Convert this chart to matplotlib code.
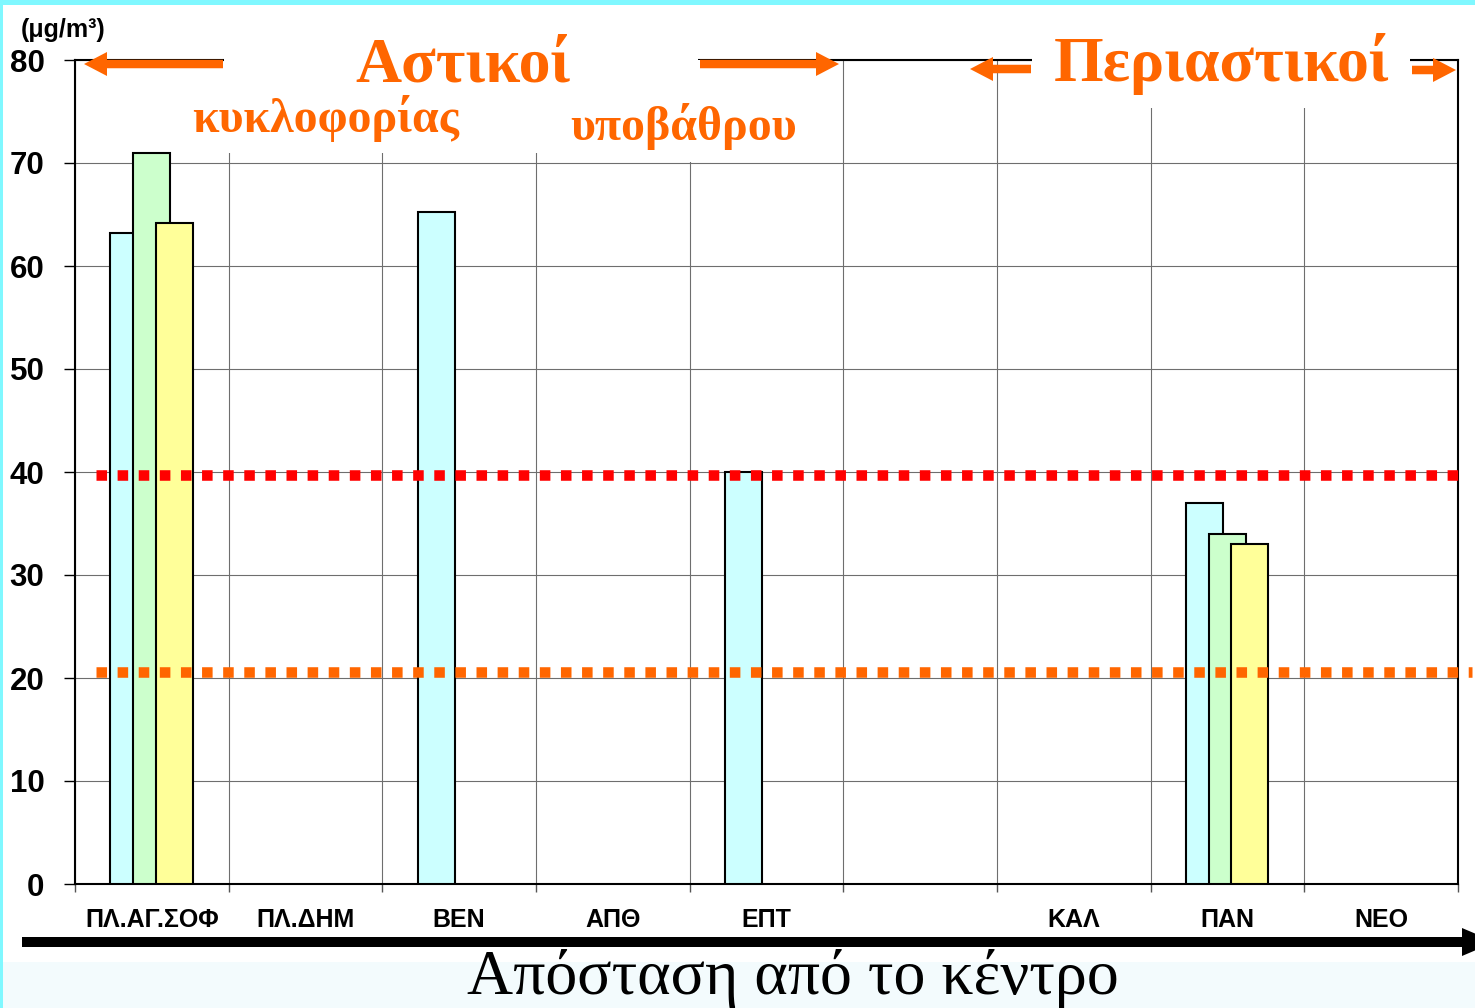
"""
NO2 annual means per station, grouped by distance from the city centre
"""

import numpy as np
import matplotlib
matplotlib.use('Agg')
import matplotlib.pyplot as plt
from matplotlib.patches import Rectangle, FancyArrow

# Data
stations = ['ΠΛ.ΑΓ.ΣΟΦ', 'ΠΛ.ΔΗΜ', 'ΒΕΝ', 'ΑΠΘ', 'ΕΠΤ', '', 'ΚΑΛ', 'ΠΑΝ', 'ΝΕΟ']
series_cyan = [63.2, np.nan, 65.2, np.nan, 40.0, np.nan, np.nan, 37.0, np.nan]
series_green = [71.0, np.nan, np.nan, np.nan, np.nan, np.nan, np.nan, 34.0, np.nan]
series_yellow = [64.2, np.nan, np.nan, np.nan, np.nan, np.nan, np.nan, 33.0, np.nan]
limit_red = 39.7
limit_orange = 20.55
y_ticks = [0, 10, 20, 30, 40, 50, 60, 70, 80]

W, H = 1475, 1008
ORANGE = '#FF6600'


def fx(px):
    return px / W


def fy(py):
    # pixel row from top -> figure fraction
    return 1 - py / H


fig = plt.figure(figsize=(W / 100, H / 100), dpi=100)
fig.patch.set_facecolor('white')

# frame decoration
fig.patches.append(Rectangle((0, 0), 1, fy(962), transform=fig.transFigure,
                             facecolor='#F3FBFD', edgecolor='none', zorder=0))
fig.patches.append(Rectangle((0, fy(5)), 1, 1, transform=fig.transFigure,
                             facecolor='#80F8FF', edgecolor='none', zorder=0))
fig.patches.append(Rectangle((0, 0), fx(3), 1, transform=fig.transFigure,
                             facecolor='#80F8FF', edgecolor='none', zorder=0))

ax = fig.add_axes([fx(75), fy(884), fx(1458 - 75), fy(60) - fy(884)])
ax.set_facecolor('white')

x = np.arange(len(stations))
width = 0.24
ax.bar(x - 0.15, series_cyan, width, color='#CCFFFF', edgecolor='black', linewidth=1.5, zorder=3)
ax.bar(x, series_green, width, color='#CCFFCC', edgecolor='black', linewidth=1.5, zorder=3.1)
ax.bar(x + 0.145, series_yellow, width, color='#FFFF99', edgecolor='black', linewidth=1.5, zorder=3.2)

# limit lines (dotted squares)
yt = ax.get_yaxis_transform()
ax.plot([0.015, 1.003], [limit_red, limit_red], transform=yt, color='#FF0000',
        lw=7.6, linestyle=(0, (1, 1)), dash_capstyle='butt', clip_on=False, zorder=4)
ax.plot([0.015, 1.01], [limit_orange, limit_orange], transform=yt, color=ORANGE,
        lw=7.6, linestyle=(0, (1, 1)), dash_capstyle='butt', clip_on=False, zorder=4)

ax.set_xlim(-0.5, len(stations) - 0.5)
ax.set_ylim(0, 80)
ax.set_yticks(y_ticks)
ax.set_yticklabels([str(v) for v in y_ticks], fontfamily='Liberation Sans',
                   fontweight='bold', fontsize=22.5)
ax.tick_params(axis='y', direction='out', length=8, width=1, pad=14)

ax.set_xticks(np.arange(len(stations) + 1) - 0.5)
ax.set_xticklabels([])
ax.set_xticks(x, minor=True)
ax.set_xticklabels(stations, minor=True, fontfamily='Liberation Sans',
                   fontweight='bold', fontsize=18)
ax.tick_params(axis='x', which='major', direction='out', length=6, width=1, color='#555555')
ax.tick_params(axis='x', which='minor', length=0, pad=17)

ax.grid(True, which='major', color='#6E6E6E', linewidth=0.8, zorder=1)
ax.set_axisbelow(True)
for s in ax.spines.values():
    s.set_linewidth(1.5)
    s.set_color('black')

# white areas behind the headings hide the grid
for (x0, y0, x1, y1) in [(224, 25, 698, 153), (552, 60, 825, 162), (1032, 25, 1410, 108)]:
    fig.patches.append(Rectangle((fx(x0), fy(y1)), fx(x1 - x0), fy(y0) - fy(y1),
                                 transform=fig.transFigure, facecolor='white',
                                 edgecolor='none', zorder=2.7))

# headings
serif = 'Liberation Serif'
fig.text(fx(463), fy(81), 'Αστικοί', ha='center', va='baseline', fontfamily=serif,
         fontweight='bold', fontsize=46, color=ORANGE, zorder=6)
fig.text(fx(1222), fy(81), 'Περιαστικοί', ha='center', va='baseline', fontfamily=serif,
         fontweight='bold', fontsize=46, color=ORANGE, zorder=6)
fig.text(fx(326), fy(132), 'κυκλοφορίας', ha='center', va='baseline', fontfamily=serif,
         fontweight='bold', fontsize=34.5, color=ORANGE, zorder=6)
fig.text(fx(684), fy(140), 'υποβάθρου', ha='center', va='baseline', fontfamily=serif,
         fontweight='bold', fontsize=34.5, color=ORANGE, zorder=6)

# orange arrows (pixels: tail x, tip x, y)
for (x0, x1, yy) in [(223, 84, 64), (700, 839, 64), (1031, 970, 69), (1412, 1456, 70)]:
    fig.patches.append(FancyArrow(x0 / 100, (H - yy) / 100, (x1 - x0) / 100, 0,
                                  width=0.085, head_width=0.24, head_length=0.23,
                                  length_includes_head=True, transform=fig.dpi_scale_trans,
                                  facecolor=ORANGE, edgecolor='none', zorder=6))

# distance arrow
fig.patches.append(FancyArrow(0.22, (H - 942) / 100, 14.95 - 0.22, 0,
                              width=0.10, head_width=0.28, head_length=0.33,
                              length_includes_head=True, transform=fig.dpi_scale_trans,
                              facecolor='black', edgecolor='none', zorder=6))
fig.text(fx(793), fy(994), 'Απόσταση από το κέντρο', ha='center', va='baseline',
         fontfamily=serif, fontsize=46, color='black')

fig.text(fx(63), fy(30), '(μg/m³)', ha='center', va='center', fontfamily='Liberation Sans',
         fontweight='bold', fontsize=18)

plt.savefig('out.png', dpi=100)
plt.close()
